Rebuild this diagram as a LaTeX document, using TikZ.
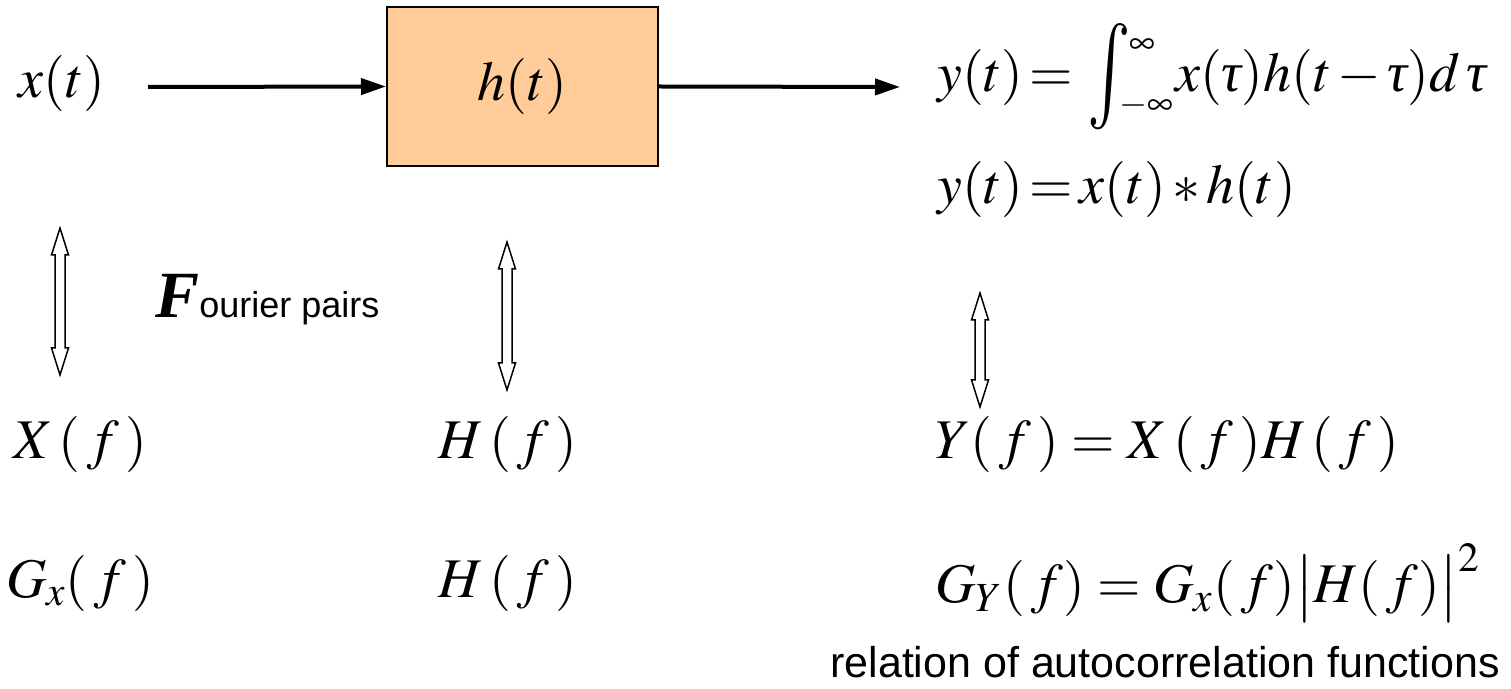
\documentclass[tikz,border=0pt]{standalone}
\usepackage{mathptmx}
\usepackage{graphicx}
\usepackage[no-math]{fontspec}
\setmainfont{Liberation Serif}
\setsansfont{Liberation Sans}
\usetikzlibrary{arrows.meta}
\definecolor{peach}{HTML}{FFCC99}
\newcommand{\ttau}{\mbox{\itshape τ}}
\newcommand{\midint}{\mathord{\kern4pt\raisebox{-5.5pt}{\scalebox{1.3}[1.9]{$\int$}}\kern-1pt
  \rlap{\raisebox{19pt}{\fontsize{18}{18}\selectfont$\infty$}}%
  \rlap{\kern-5pt\raisebox{-11.5pt}{\fontsize{18}{18}\selectfont$-\infty$}}\hspace{23pt}}}
\newcommand{\hollowdbl}[3]{%
  \draw[line width=0.75pt, fill=white]
    (#1-5,#2+27) -- (#1-8.5,#2+27) -- (#1,#2) -- (#1+8.5,#2+27) -- (#1+5,#2+27)
    -- (#1+5,#3-27) -- (#1+8.5,#3-27) -- (#1,#3) -- (#1-8.5,#3-27) -- (#1-5,#3-27) -- cycle;}
\tikzset{
  eq/.style={inner sep=0pt, font=\fontsize{28}{32}\selectfont},
  lbl/.style={inner sep=0pt, font=\sffamily\fontsize{21.5}{24}\selectfont},
  mainarrow/.style={line width=2pt, -{Triangle[length=12.5pt,width=8pt]}},
  sysbox/.style={draw, line width=1pt, fill=peach, inner sep=0pt,
    minimum width=135.5pt, minimum height=79.5pt}
}
\begin{document}
\begin{tikzpicture}[x=0.5pt,y=-0.5pt]
\useasboundingbox (0,0) rectangle (1511,689);
% top row
\node[eq] (xt) at (62,84) {$x(t)$};
\node[sysbox] (box) at (522.5,86.5) {};
\node[eq] (ht) at (box.center) {$h(t)$};
\coordinate (a1s) at (148,87);
\coordinate (a2e) at (900,87);
\draw[mainarrow] (a1s) -- (box.west);
\draw[mainarrow] (box.east) -- (a2e);
\node[eq, anchor=base west] (yint) at (937,92)
  {$\thickmuskip=2mu \medmuskip=2mu y(t)=\midint x(\ttau)h(t-\ttau)d\,\ttau$};
\node[eq, anchor=west] (yconv) at (937,190)
  {$\thickmuskip=2mu \medmuskip=2mu y(t)=x(t)\ast h(t)$};
% hollow double arrows
\hollowdbl{60}{228}{375}
\hollowdbl{507}{242}{390}
\hollowdbl{980}{293}{407}
\node[inner sep=0pt, anchor=base west] (fp) at (155,318)
  {{\fontsize{33}{33}\selectfont\bfseries\itshape F}{\sffamily\fontsize{18}{20}\selectfont ourier pairs}};
% frequency row
\node[eq] (Xf) at (80,445) {$X\,(\,f\,)$};
\node[eq] (Hf1) at (508,445) {$H\,(\,f\,)$};
\node[eq, anchor=west] (Yf) at (935,445) {$Y(\,f\,)=X\,(\,f\,)H\,(\,f\,)$};
% PSD row
\node[eq] (Gx) at (80,583) {$G_x(\,f\,)$};
\node[eq] (Hf2) at (508,583) {$H\,(\,f\,)$};
\node[eq, anchor=west] (GY) at (935,583) {$G_Y(\,f)=G_x(\,f)\big|H(\,f)\big|^{\mathrm{2}}$};
\node[lbl] (rel) at (1165,662) {relation of autocorrelation functions};
\end{tikzpicture}
\end{document}
